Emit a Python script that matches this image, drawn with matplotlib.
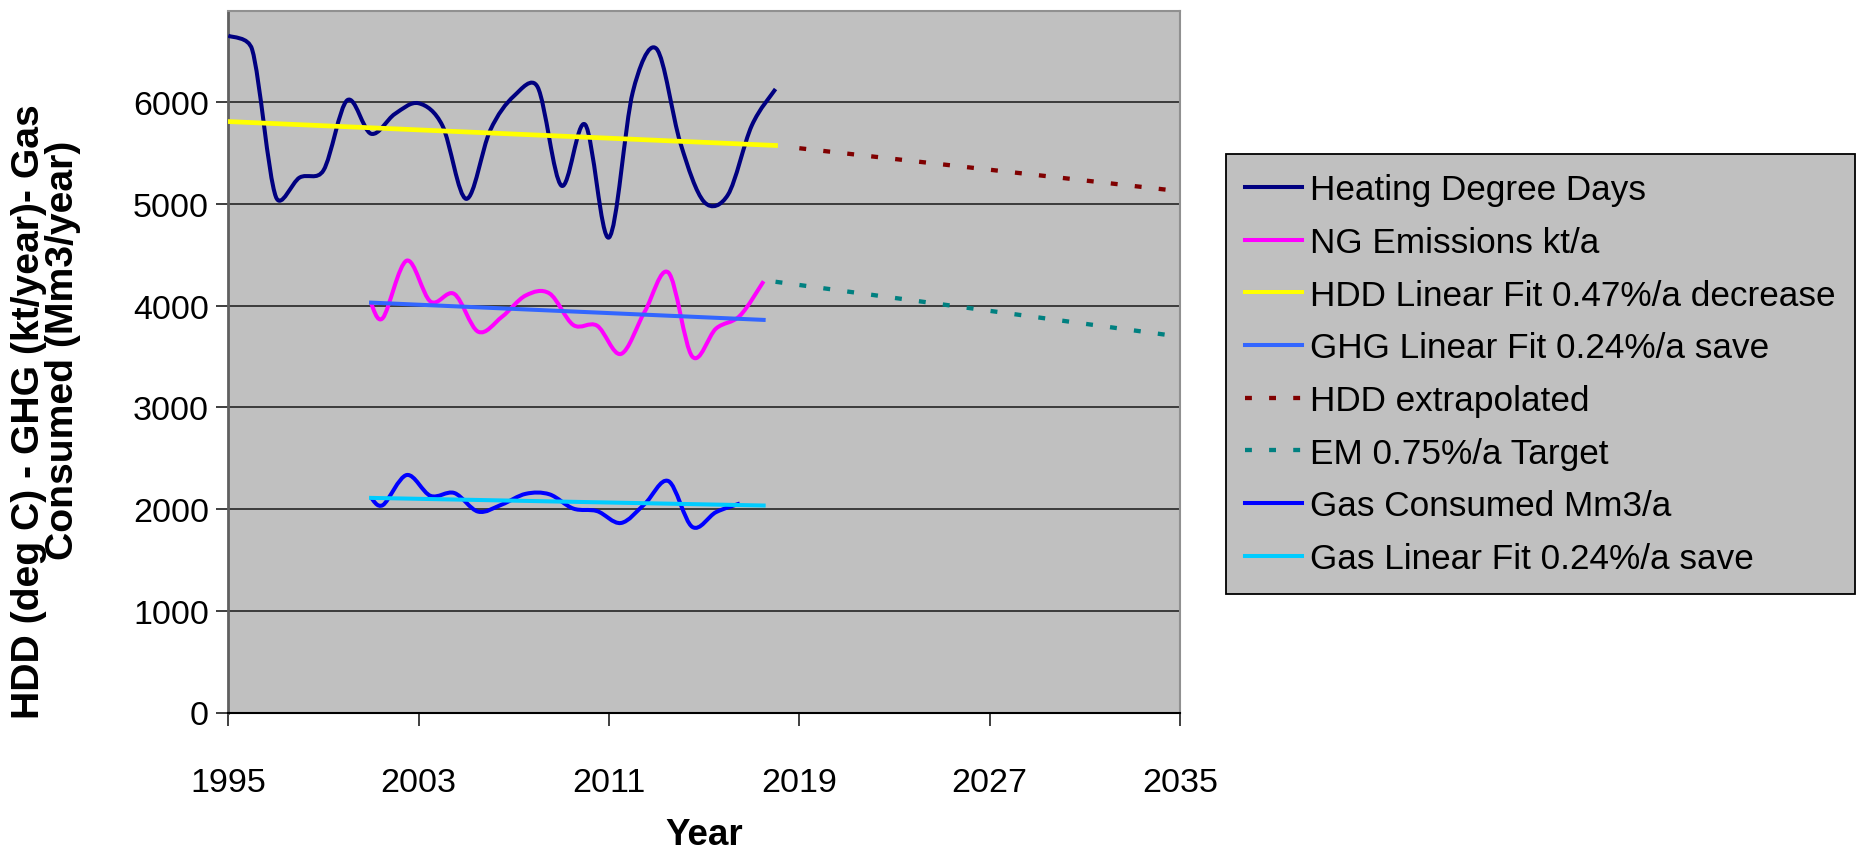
import numpy as np
import matplotlib.pyplot as plt
from matplotlib.path import Path
from matplotlib.patches import PathPatch
from matplotlib.lines import Line2D

plt.rcParams['font.family'] = ['Liberation Sans', 'DejaVu Sans']

# Heating degree days, one value per year
hdd_year = list(range(1995, 2019))
hdd = [6655, 6520, 5070, 5260, 5330, 6020, 5690, 5885, 5990, 5770, 5050, 5720,
       6060, 6150, 5180, 5780, 4670, 6100, 6525, 5600, 5020, 5090, 5770, 6130]

# NG emissions kt/a (plotted at mid year)
ng_year = [2001.0, 2001.5, 2002.5, 2003.5, 2004.5, 2005.5, 2006.5, 2007.5, 2008.5,
           2009.5, 2010.5, 2011.5, 2012.5, 2013.5, 2014.5, 2015.5, 2016.5, 2017.5]
ng = [4020, 3880, 4443, 4040, 4115, 3744, 3890, 4100, 4120,
      3810, 3803, 3525, 3940, 4325, 3500, 3775, 3900, 4240]

# Gas consumed Mm3/a
gas_year = [2001.0, 2001.5, 2002.5, 2003.5, 2004.5, 2005.5, 2006.5, 2007.5, 2008.5,
            2009.5, 2010.5, 2011.5, 2012.5, 2013.5, 2014.5, 2015.5, 2016.5]
gas = [2110, 2040, 2335, 2130, 2158, 1975, 2045, 2150, 2145,
       2005, 1980, 1863, 2050, 2275, 1825, 1970, 2055]

# linear fits and projections
hdd_fit_year = [1995, 2018]
hdd_fit = [5810, 5575]
ghg_fit_year = [2001, 2017.5]
ghg_fit = [4030, 3860]
gas_fit_year = [2001, 2017.5]
gas_fit = [2110, 2035]
hdd_ext_year = [2019, 2035]
hdd_ext = [5548, 5125]
em_year = [2018, 2035]
em = [4235, 3695]

labels = ['Heating Degree Days', 'NG Emissions kt/a', 'HDD Linear Fit 0.47%/a decrease',
          'GHG Linear Fit 0.24%/a save', 'HDD extrapolated', 'EM 0.75%/a Target',
          'Gas Consumed Mm3/a', 'Gas Linear Fit 0.24%/a save']
colors = ['#000080', '#FF00FF', '#FFFF00', '#3366FF', '#800000', '#008080',
          '#0000FF', '#00CCFF']


def smooth(ax, x, y, **kw):
    # smoothed line like a spreadsheet chart: bezier through the points,
    # control arms kept under half of the neighbouring segment (screen space)
    p = ax.transData.transform(np.column_stack([x, y]).astype(float))
    ext = np.vstack([p[0], p, p[-1]])
    verts = [p[0]]
    for i in range(len(p) - 1):
        lim = np.hypot(*(p[i + 1] - p[i])) / 2
        a = (ext[i + 2] - ext[i]) / 6
        b = (ext[i + 3] - ext[i + 1]) / 6
        a = a * min(1, lim / max(np.hypot(*a), 1e-9))
        b = b * min(1, lim / max(np.hypot(*b), 1e-9))
        verts += [p[i] + a, p[i + 1] - b, p[i + 1]]
    verts = ax.transData.inverted().transform(np.array(verts))
    codes = [Path.MOVETO] + [Path.CURVE4] * (len(verts) - 1)
    ax.add_patch(PathPatch(Path(verts, codes), fill=False, capstyle='butt',
                           joinstyle='round', **kw))


fig = plt.figure(figsize=(18.74, 8.54), dpi=100)
ax = fig.add_axes([228.3 / 1874, 140.5 / 854, 951.7 / 1874, 701.8 / 854])
ax.set_facecolor('#C0C0C0')
ax.set_xlim(1995, 2035)
ax.set_ylim(0, 6900)

lw = 2.9
dash = (1.6, 4.0)
smooth(ax, hdd_year, hdd, edgecolor=colors[0], lw=lw, zorder=3)
smooth(ax, ng_year, ng, edgecolor=colors[1], lw=lw, zorder=3)
ax.plot(hdd_fit_year, hdd_fit, color=colors[2], lw=3.4, zorder=3)
ax.plot(ghg_fit_year, ghg_fit, color=colors[3], lw=lw, zorder=3)
ax.plot(hdd_ext_year, hdd_ext, color=colors[4], lw=3.1, dashes=dash,
        dash_capstyle='butt', zorder=3)
ax.plot(em_year, em, color=colors[5], lw=3.1, dashes=dash,
        dash_capstyle='butt', zorder=3)
smooth(ax, gas_year, gas, edgecolor=colors[6], lw=lw, zorder=3)
ax.plot(gas_fit_year, gas_fit, color=colors[7], lw=lw, zorder=3)

ax.set_xticks([1995, 2003, 2011, 2019, 2027, 2035])
ax.set_yticks(range(0, 7000, 1000))
ax.yaxis.grid(True, color='#303030', lw=1.3)
ax.set_axisbelow(True)
ax.tick_params(labelsize=24.5, length=9, width=1.3, direction='out', color='#303030')
ax.tick_params(axis='x', pad=30)
ax.tick_params(axis='y', pad=5)
for s in ['top', 'right']:
    ax.spines[s].set_color('#909090')
    ax.spines[s].set_linewidth(1.5)
ax.spines['left'].set_color('#606060')
ax.spines['left'].set_linewidth(2)
ax.spines['bottom'].set_color('black')
ax.spines['bottom'].set_linewidth(1.5)

fig.text(29 / 1874, 1 - 412 / 854, 'HDD (deg C) - GHG (kt/year)- Gas', rotation=90,
         fontsize=28.2, fontweight='bold', ha='center', va='center')
fig.text(63 / 1874, 1 - 350 / 854, 'Consumed (Mm3/year)', rotation=90,
         fontsize=28.2, fontweight='bold', ha='center', va='center')
fig.text(704 / 1874, 1 - 845 / 854, 'Year', fontsize=26.5, fontweight='bold',
         ha='center', va='baseline')

handles = []
for i, (lab, c) in enumerate(zip(labels, colors)):
    if i in (4, 5):
        handles.append(Line2D([], [], color=c, lw=3.1, dashes=dash, dash_capstyle='butt'))
    else:
        handles.append(Line2D([], [], color=c, lw=lw))
leg = fig.legend(handles, labels, loc='upper left', bbox_to_anchor=(1226 / 1874, 1 - 155 / 854),
                 borderaxespad=0, fontsize=25.3, frameon=True, fancybox=False,
                 facecolor='#C0C0C0', edgecolor='black', framealpha=1,
                 handlelength=1.6, handletextpad=0.25, labelspacing=0.56, borderpad=0.55)
leg.get_frame().set_linewidth(1.3)

fig.savefig('out.png', dpi=100)
